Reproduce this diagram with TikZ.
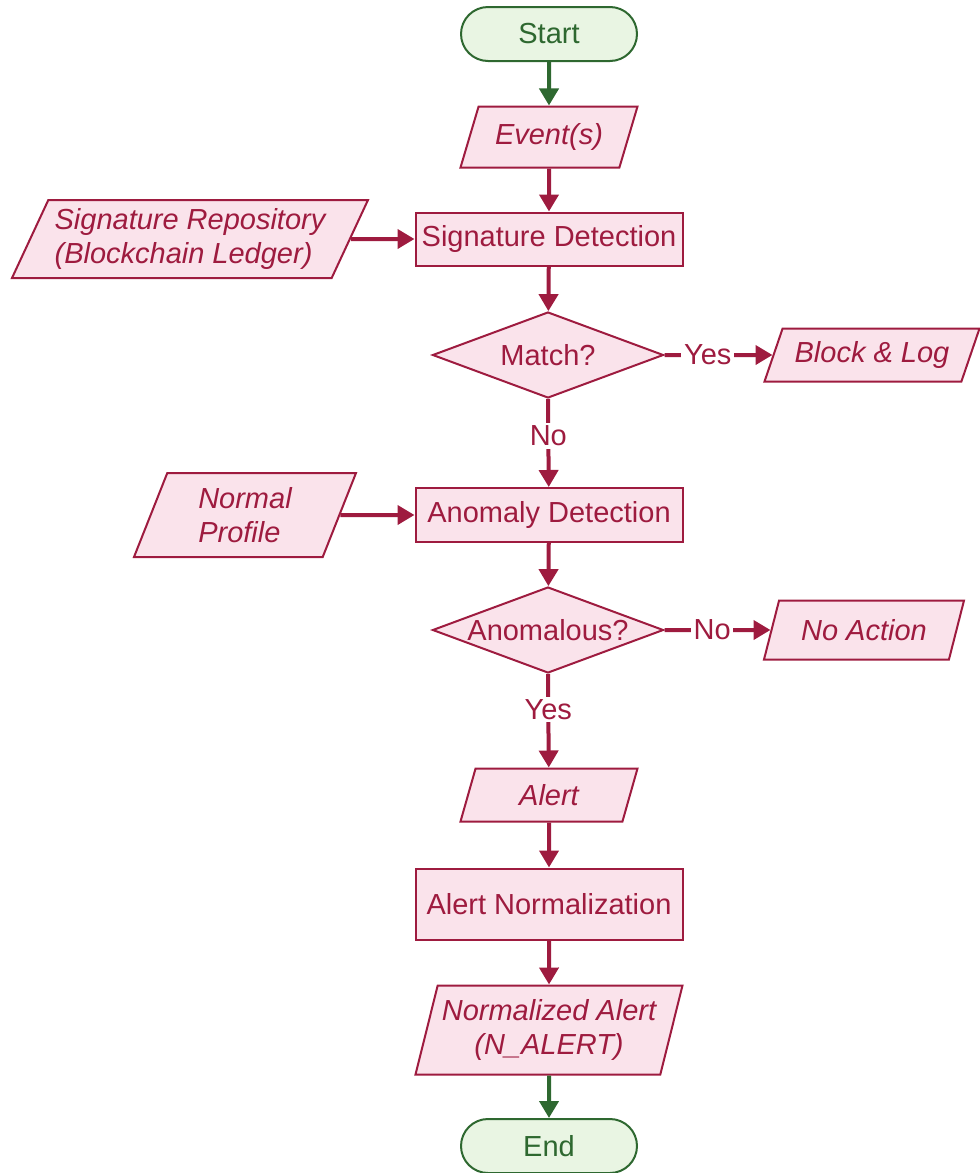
\documentclass[tikz,border=0pt]{standalone}
\usepackage{xcolor}
\usepackage{fontspec}
\setmainfont{Liberation Sans}
\usetikzlibrary{shapes.geometric, arrows.meta, positioning}
\definecolor{flowRed}{RGB}{158, 27, 63}
\definecolor{flowPink}{RGB}{250, 227, 235}
\definecolor{flowGreen}{RGB}{46, 104, 48}
\definecolor{flowMint}{RGB}{233, 245, 227}

\tikzset{
    base/.style={font=\fontsize{16.5}{19.5}\selectfont, align=center, line width=0.04cm, inner sep=2pt},
    terminal/.style={base, draw=flowGreen, fill=flowMint, text=flowGreen,
        rounded corners=0.54cm, minimum width=3.52cm, minimum height=1.08cm},
    process/.style={base, rectangle, draw=flowRed, fill=flowPink, text=flowRed,
        minimum width=5.34cm, minimum height=1.06cm},
    data/.style={base, trapezium, trapezium left angle=62, trapezium right angle=118,
        trapezium stretches body, draw=flowRed, fill=flowPink, text=flowRed, font=\fontsize{16.5}{19.5}\selectfont\itshape},
    decision/.style={base, diamond, aspect=2.7, draw=flowRed, fill=flowPink, text=flowRed,
        minimum width=4.62cm, minimum height=1.72cm, inner sep=0pt},
    flow/.style={line width=0.08cm, draw=flowRed, -{Triangle[width=0.38cm, length=0.34cm]}},
    greenflow/.style={flow, draw=flowGreen},
    edgelabel/.style={fill=white, text=flowRed, font=\fontsize{16.5}{19.5}\selectfont, inner sep=1.5pt}
}

\begin{document}
\begin{tikzpicture}
    \useasboundingbox (0,0) rectangle (19.6,-23.46);

    % Main column
    \node[terminal] (start) at (10.98,-0.68) {Start};
    \node[data, minimum width=3.54cm, minimum height=1.22cm] (events) at (10.98,-2.74) {Event(s)};
    \node[process] (sigdet) at (10.98,-4.78) {Signature Detection};
    \node[decision] (match) at (10.96,-7.1) {Match?};
    \node[process, minimum height=1.08cm] (anomdet) at (10.98,-10.3) {Anomaly Detection};
    \node[decision] (anomq) at (10.96,-12.6) {Anomalous?};
    \node[data, minimum width=3.54cm, minimum height=1.06cm] (alert) at (10.98,-15.9) {Alert};
    \node[process, minimum height=1.42cm] (alertnorm) at (10.98,-18.08) {Alert Normalization};
    \node[data, trapezium left angle=72, trapezium right angle=108,
        minimum width=5.34cm, minimum height=1.78cm] (nalert) at (10.98,-20.6) {Normalized Alert\\(N\_ALERT)};
    \node[terminal] (end) at (10.98,-22.92) {End};

    % Side inputs and outcomes
    \node[data, align=left, minimum width=7.12cm, minimum height=1.56cm] (sigrepo) at (3.8,-4.78) {Signature Repository\\(Blockchain Ledger)};
    \node[data, align=left, minimum width=4.44cm, minimum height=1.68cm] (normal) at (4.9,-10.3) {Normal\\Profile};
    \node[data, minimum width=4.3cm, minimum height=1.06cm] (block) at (17.44,-7.1) {Block \& Log};
    \node[data, minimum width=4.0cm, minimum height=1.18cm] (noact) at (17.28,-12.6) {No Action};

    % Connectors
    \draw[greenflow] (start) -- (events);
    \draw[flow] (events) -- (sigdet);
    \draw[flow] (sigrepo) -- (sigdet);
    \draw[flow] (sigdet) -- (match);
    \draw[flow] (match.east) -- node[edgelabel, pos=0.4] {Yes} (block);
    \draw[flow] (match.south) -- node[edgelabel, pos=0.42] {No} (anomdet);
    \draw[flow] (normal) -- (anomdet);
    \draw[flow] (anomdet) -- (anomq);
    \draw[flow] (anomq.east) -- node[edgelabel, pos=0.45] {No} (noact);
    \draw[flow] (anomq.south) -- node[edgelabel, pos=0.38] {Yes} (alert);
    \draw[flow] (alert) -- (alertnorm);
    \draw[flow] (alertnorm) -- (nalert);
    \draw[greenflow] (nalert) -- (end);

\end{tikzpicture}
\end{document}
